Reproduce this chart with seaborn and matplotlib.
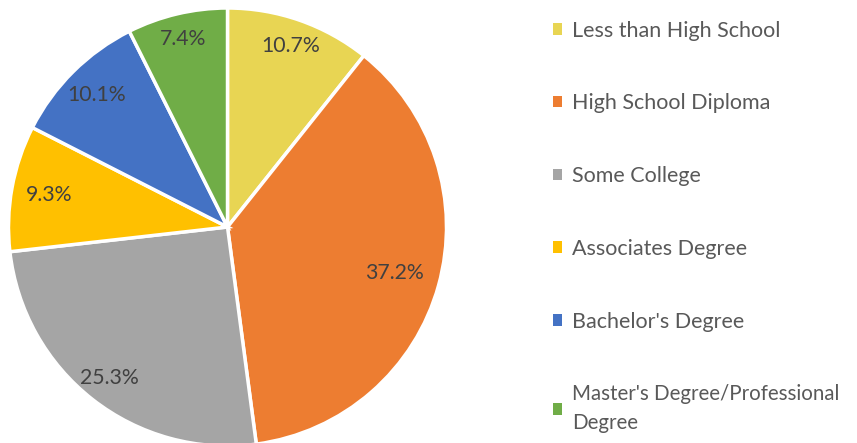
import matplotlib
matplotlib.use("Agg")
import matplotlib.pyplot as plt
import seaborn as sns
import numpy as np
from matplotlib.patches import Patch

categories = ["Less than High School", "High School Diploma", "Some College",
              "Associates Degree", "Bachelor's Degree",
              "Master's Degree/Professional\nDegree"]
shares = [10.7, 37.2, 25.3, 9.3, 10.1, 7.4]
slice_colors = ["#E8D553", "#ED7D31", "#A5A5A5", "#FFC000", "#4472C4", "#70AD47"]

sns.set_theme(style="white")
plt.rcParams["font.family"] = ["Lato", "DejaVu Sans"]

palette = sns.color_palette(slice_colors)

fig = plt.figure(figsize=(8.57, 4.43), dpi=100)
W, H = 857, 443
cx, cy, r = 227.5, 443 - 227, 219
ax = fig.add_axes([(cx - r) / W, (cy - r) / H, 2 * r / W, 2 * r / H])

wedges, texts, autotexts = ax.pie(
    shares, colors=palette, startangle=90, counterclock=False,
    autopct=lambda p: f"{p:.1f}%", pctdistance=0.87,
    wedgeprops=dict(edgecolor="white", linewidth=2.5),
    textprops=dict(color="#404040", fontsize=15.3),
)
# per-slice label radius (layout only)
label_radius = [0.875, 0.79, 0.875, 0.83, 0.85, 0.88]
for w, t, lr in zip(wedges, autotexts, label_radius):
    ang = np.deg2rad((w.theta1 + w.theta2) / 2)
    t.set_position((lr * np.cos(ang), lr * np.sin(ang)))
ax.set_xlim(-1, 1)
ax.set_ylim(-1, 1)
ax.set_aspect("equal")

handles = [Patch(facecolor=c, edgecolor="none") for c in palette]
leg = fig.legend(handles, categories, loc="upper left",
                 bbox_to_anchor=(544 / W, 1 - 12 / H), frameon=False,
                 fontsize=15.5, labelcolor="#595959",
                 handlelength=0.45, handleheight=0.45, handletextpad=0.45,
                 labelspacing=2.45, borderaxespad=0)
last = leg.get_texts()[-1]
last.set_linespacing(1.55)
last.set_fontsize(14.8)

fig.savefig("out.png", dpi=100)
